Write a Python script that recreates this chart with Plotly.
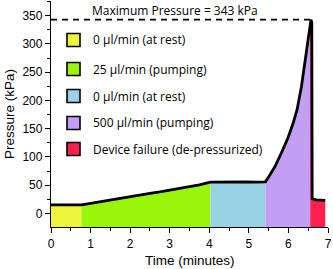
import plotly.graph_objects as go

# ---- data ----
time_min = [0, 0.2, 0.4, 0.6, 0.77, 1.0, 1.25, 1.5, 1.75, 2.0, 2.25, 2.5, 2.75,
            3.0, 3.25, 3.5, 3.75, 4.03, 4.3, 4.6, 4.9, 5.2, 5.42, 5.53, 5.66,
            5.82, 5.99, 6.12, 6.22, 6.33, 6.46, 6.52, 6.55, 6.57, 6.59, 6.6,
            6.7, 6.8, 6.93]
pressure_kpa = [15, 15, 15.5, 14.5, 15, 18, 21, 24, 27, 30, 33.5, 35.5, 38,
                41, 44, 47, 50.5, 55.5, 56, 55.5, 56, 55.5, 56, 68, 83,
                107, 134, 160, 184, 225, 285, 315, 330, 343, 338, 26,
                24, 24, 23]
phase_bounds = [0, 0.77, 4.03, 5.42, 6.55, 6.93]
phase_labels = ["0 μl/min (at rest)", "25 μl/min (pumping)", "0 μl/min (at rest)",
                "500 μl/min (pumping)", "Device failure (de-pressurized)"]
phase_colors = ["#EFF53D", "#99F50A", "#99D1E5", "#C29EF5", "#FF1F4F"]
max_pressure = 343
max_time = 6.57
y_range = [-24, 376]
x_range = [0, 7]

W, H = 333, 269
ML, MR, MT, MB = 51, 5, 1, 42
PW, PH = W - ML - MR, H - MT - MB

fig = go.Figure()

# phase fills
for i, lab in enumerate(phase_labels):
    a, b = phase_bounds[i], phase_bounds[i + 1]
    xs = [t for t in time_min if a <= t <= b]
    ys = [p for t, p in zip(time_min, pressure_kpa) if a <= t <= b]
    fig.add_trace(go.Scatter(
        x=xs + [xs[-1], xs[0]], y=ys + [y_range[0], y_range[0]],
        fill="toself", fillcolor=phase_colors[i], mode="none",
        showlegend=False, hoverinfo="skip"))

# pressure curve
fig.add_trace(go.Scatter(x=time_min, y=pressure_kpa, mode="lines",
                         line=dict(color="black", width=2.8), showlegend=False))

# max pressure dashed line
fig.add_trace(go.Scatter(x=[0, max_time], y=[max_pressure, max_pressure], mode="lines",
                         line=dict(color="black", width=1.6, dash="6px,5px"),
                         showlegend=False))
fig.add_annotation(x=40 / PW, xref="paper", y=max_pressure, yref="y",
                   text=f"Maximum Pressure = {max_pressure} kPa", showarrow=False,
                   xanchor="left", yanchor="bottom", yshift=0, borderpad=0,
                   font=dict(family="Open Sans", size=12, color="black"))

# legend drawn as boxes + text (row centres in pixels from plot top)
row_px = [39, 68, 95, 122, 148]
half = 6.5
for i, lab in enumerate(phase_labels):
    yc = 1 - row_px[i] / PH
    fig.add_shape(type="rect", xref="paper", yref="paper",
                  x0=16 / PW, x1=29 / PW, y0=yc - half / PH, y1=yc + half / PH,
                  fillcolor=phase_colors[i], line=dict(color="black", width=1.6))
    fig.add_annotation(x=40 / PW, y=yc, xref="paper", yref="paper", text=lab,
                       showarrow=False, xanchor="left", yanchor="middle",
                       font=dict(family="Open Sans", size=12, color="black"))

# axis titles
fig.add_annotation(x=0.5, y=-(260 - MT - PH) / PH, xref="paper", yref="paper",
                   text="Time (minutes)", showarrow=False, xanchor="center", yanchor="middle",
                   font=dict(family="Liberation Sans", size=13.5, color="black"))
fig.add_annotation(x=-(ML - 9) / PW, y=0.5, xref="paper", yref="paper",
                   text="Pressure (kPa)", showarrow=False, textangle=-90,
                   xanchor="center", yanchor="middle",
                   font=dict(family="Liberation Sans", size=13.5, color="black"))

axis_common = dict(showline=True, linecolor="black", linewidth=1.3,
                   ticks="outside", ticklen=5, tickwidth=1.3, tickcolor="black",
                   showgrid=False, zeroline=False, automargin=False,
                   tickfont=dict(family="Liberation Sans", size=12, color="black"))

fig.update_xaxes(range=x_range, dtick=1, tick0=0,
                 minor=dict(dtick=0.5, ticks="outside", ticklen=3, tickcolor="black", tickwidth=1.2),
                 **axis_common)
fig.update_yaxes(range=y_range, tickvals=[0, 50, 100, 150, 200, 250, 300, 350],
                 minor=dict(tickvals=[-25, 25, 75, 125, 175, 225, 275, 325, 375], ticks="outside",
                            ticklen=3, tickcolor="black", tickwidth=1.2),
                 **axis_common)

fig.update_layout(width=W, height=H, margin=dict(l=ML, r=MR, t=MT, b=MB),
                  plot_bgcolor="white", paper_bgcolor="white", showlegend=False)

# remove the default page margin so the figure fills the window exactly
fig.write_html("out.html", config={"displayModeBar": False},
               post_script="document.body.style.margin='0';")
